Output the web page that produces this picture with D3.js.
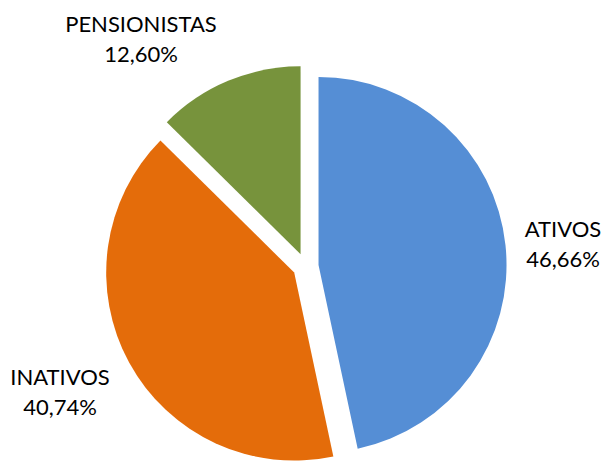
<!DOCTYPE html>
<html lang="pt">
<head>
    <meta charset="UTF-8">
    <title>Distribuição</title>
    <script src="https://d3js.org/d3.v7.min.js"></script>
    <style>
        body { margin: 0; background: #fff; }
        .label { font-family: Lato, "Open Sans", sans-serif; font-size: 22px; fill: #000; }
    </style>
</head>
<body>
    <div id="chart"></div>
    <script>
        // data
        const categories = ["ATIVOS", "INATIVOS", "PENSIONISTAS"];
        const values = [46.66, 40.74, 12.60];
        const valueLabels = ["46,66%", "40,74%", "12,60%"];
        const colors = ["#558ED5", "#E46C0A", "#77933C"];

        const width = 603, height = 461;
        const cx = 305.6, cy = 266.3;
        const radius = 188;
        const explode = 13;

        // label centres (layout only)
        const labelPos = [[563, 229], [60, 377], [141, 24]];

        const data = categories.map((c, i) => ({ name: c, value: values[i], text: valueLabels[i] }));

        const pie = d3.pie().value(d => d.value).sort(null);
        const arc = d3.arc().innerRadius(0).outerRadius(radius);

        const color = d3.scaleOrdinal().domain(categories).range(colors);

        const svg = d3.select("#chart").append("svg")
            .attr("width", width)
            .attr("height", height);

        const g = svg.append("g").attr("transform", "translate(" + cx + "," + cy + ")");

        const arcs = pie(data);

        g.selectAll("path")
            .data(arcs)
            .enter()
            .append("path")
            .attr("d", arc)
            .attr("fill", d => color(d.data.name))
            .attr("transform", d => {
                const mid = (d.startAngle + d.endAngle) / 2;
                return "translate(" + (Math.sin(mid) * explode) + "," + (-Math.cos(mid) * explode) + ")";
            });

        const labels = svg.selectAll("text.label")
            .data(arcs)
            .enter()
            .append("text")
            .attr("class", "label")
            .attr("text-anchor", "middle")
            .attr("x", (d, i) => labelPos[i][0])
            .attr("y", (d, i) => labelPos[i][1]);

        labels.append("tspan")
            .attr("x", (d, i) => labelPos[i][0])
            .attr("dy", "0.35em")
            .text(d => d.data.name);

        labels.append("tspan")
            .attr("x", (d, i) => labelPos[i][0])
            .attr("dy", 30)
            .text(d => d.data.text);
    </script>
</body>
</html>
